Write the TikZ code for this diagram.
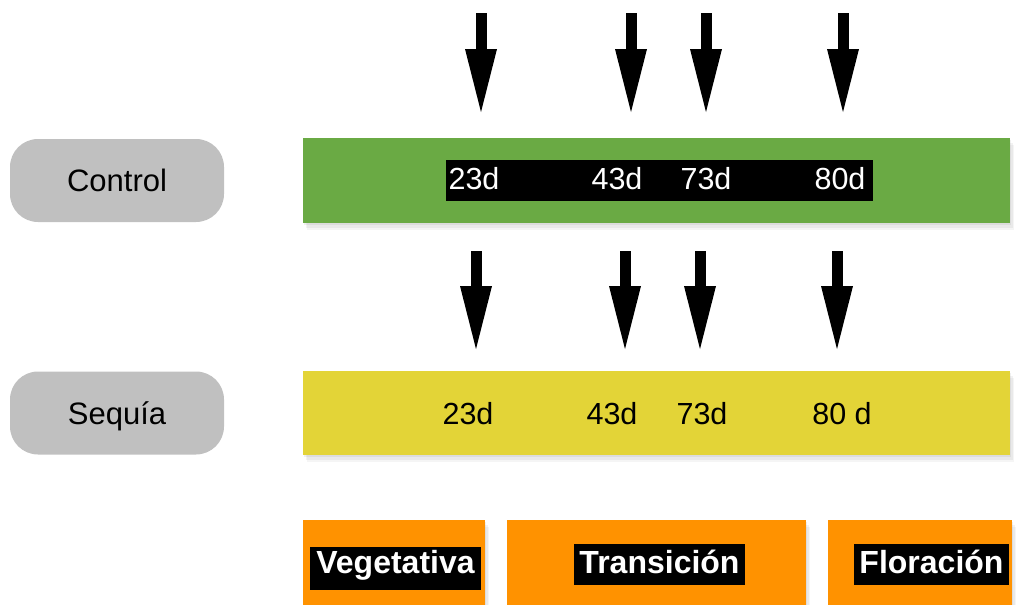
\documentclass[tikz,border=0pt]{standalone}
\usepackage{fontspec}
\setmainfont{Liberation Sans}
\usetikzlibrary{arrows.meta,shadows}
\definecolor{grn}{RGB}{106,170,68}
\definecolor{ylw}{RGB}{227,212,55}
\definecolor{org}{RGB}{255,146,0}
\definecolor{gry}{RGB}{192,192,192}
\tikzset{
  softshadow/.style={
    drop shadow={opacity=0.12,shadow xshift=1pt,shadow yshift=-2pt},
    drop shadow={opacity=0.10,shadow xshift=2.5pt,shadow yshift=-4.5pt},
    drop shadow={opacity=0.08,shadow xshift=4pt,shadow yshift=-7pt}},
  label/.style={rounded corners=28pt,fill=gry,minimum width=214pt,minimum height=83pt,
    inner sep=0pt,text height=30pt,text depth=8pt,
    font=\fontsize{31}{36}\selectfont},
  bar/.style={minimum width=707pt,inner sep=0pt,softshadow},
  daytxt/.style={inner sep=0pt,anchor=base,font=\fontsize{30.5}{36}\selectfont},
  phase/.style={fill=org,minimum height=86pt,inner sep=0pt,softshadow},
  tag/.style={fill=black,text=white,inner sep=0pt,
    font=\bfseries\fontsize{32}{38}\selectfont},
  bigarrow/.style={line width=11pt,-{Triangle[width=32pt,length=63pt,line width=0pt]}}
}
\begin{document}
\begin{tikzpicture}[x=1pt,y=-1pt]
\useasboundingbox (0,0) rectangle (1021,605);
% left labels
\node[label] (ctl) at (117,180.5) {Control};
\node[label] (seq) at (117,413) {Sequía};
% bars
\node[bar,fill=grn,minimum height=85pt] (gbar) at (656.5,180.5) {};
\node[bar,fill=ylw,minimum height=84pt] (ybar) at (656.5,413) {};
% black strip on green bar
\node[fill=black,minimum width=427pt,minimum height=41pt,inner sep=0pt] (strip) at (659.5,180.5) {};
\node[daytxt,text=white] (c23) at (474,189) {23d};
\node[daytxt,text=white] (c43) at (617,189) {43d};
\node[daytxt,text=white] (c73) at (706,189) {73d};
\node[daytxt,text=white] (c80) at (840,189) {80d};
% yellow bar texts
\node[daytxt] (s23) at (468,424) {23d};
\node[daytxt] (s43) at (612,424) {43d};
\node[daytxt] (s73) at (702,424) {73d};
\node[daytxt] (s80) at (842,424) {80 d};
% arrows above control
\coordinate (ta1) at (481,13);  \coordinate (tb1) at (481,112);
\coordinate (ta2) at (631,13);  \coordinate (tb2) at (631,112);
\coordinate (ta3) at (706,13);  \coordinate (tb3) at (706,112);
\coordinate (ta4) at (843,13);  \coordinate (tb4) at (843,112);
\foreach \i in {1,...,4} \draw[bigarrow] (ta\i) -- (tb\i);
% arrows above sequia
\coordinate (ba1) at (476,251);  \coordinate (bb1) at (476,349);
\coordinate (ba2) at (625,251);  \coordinate (bb2) at (625,349);
\coordinate (ba3) at (700,251);  \coordinate (bb3) at (700,349);
\coordinate (ba4) at (837,251);  \coordinate (bb4) at (837,349);
\foreach \i in {1,...,4} \draw[bigarrow] (ba\i) -- (bb\i);
% phases
\node[phase,minimum width=182pt] (veg) at (394,563) {};
\node[phase,minimum width=299pt] (tra) at (656.5,563) {};
\node[phase,minimum width=184pt] (flo) at (920,563) {};
\node[tag,minimum width=171pt,minimum height=43pt,text height=17pt,text depth=8pt] (vegt) at (395.5,568.5) {Vegetativa};
\node[tag,minimum width=171pt,minimum height=41pt,text height=25pt,text depth=8pt] (trat) at (659.5,564.5) {Transición};
\node[tag,minimum width=155pt,minimum height=41pt,text height=25pt,text depth=8pt] (flot) at (931.5,564.5) {Floración};
\end{tikzpicture}
\end{document}
